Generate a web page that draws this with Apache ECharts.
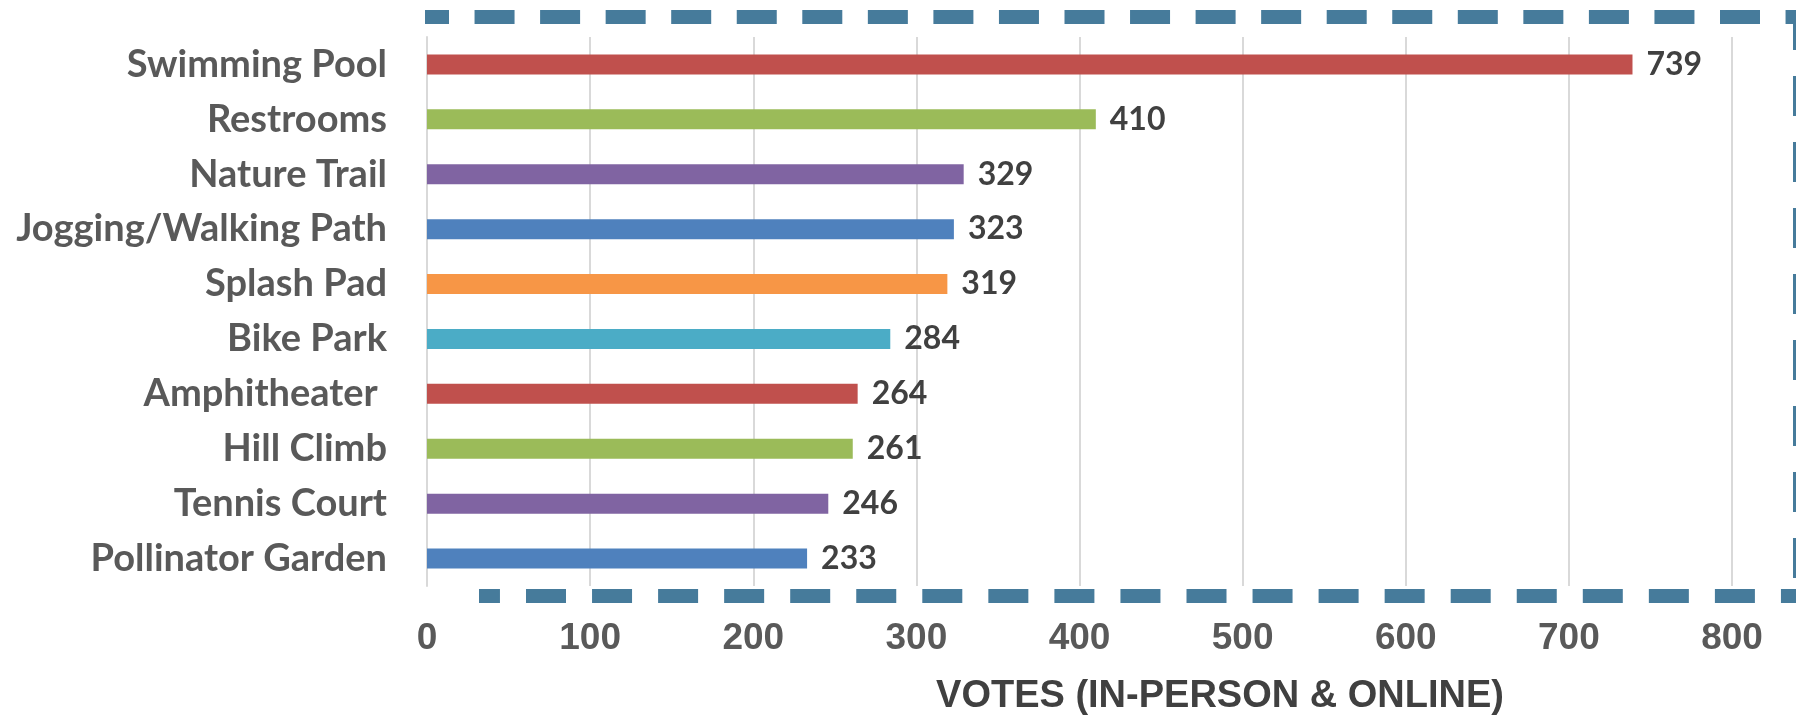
<!DOCTYPE html>
<html>
<head>
<meta charset="utf-8">
<script src="https://cdn.jsdelivr.net/npm/echarts@6/dist/echarts.min.js"></script>
<style>
  html, body { margin: 0; padding: 0; background: #ffffff; }
  #chart { width: 1796px; height: 719px; }
</style>
</head>
<body>
<div id="chart"></div>
<script>
const categories = ['Swimming Pool', 'Restrooms', 'Nature Trail', 'Jogging/Walking Path', 'Splash Pad', 'Bike Park', 'Amphitheater ', 'Hill Climb', 'Tennis Court', 'Pollinator Garden'];
const votes = [739, 410, 329, 323, 319, 284, 264, 261, 246, 233];
const barColors = ['#C0504D', '#9BBB59', '#8064A2', '#4F81BD', '#F79646', '#4BACC6', '#C0504D', '#9BBB59', '#8064A2', '#4F81BD'];
const xMin = 0, xMax = 800, xStep = 100;
const axisTitle = 'VOTES (IN-PERSON & ONLINE)';

const chart = echarts.init(document.getElementById('chart'), null, { renderer: 'canvas' });
const dashColor = '#467B9B';
chart.setOption({
  animation: false,
  backgroundColor: '#ffffff',
  grid: { left: 427, right: 64, top: 37, bottom: 133, containLabel: false },
  xAxis: {
    type: 'value', min: xMin, max: xMax, interval: xStep,
    axisLine: { show: false }, axisTick: { show: false },
    splitLine: { show: true, lineStyle: { color: '#D9D9D9', width: 2 } },
    axisLabel: { margin: 34, color: '#595959', fontFamily: 'Liberation Sans, Arial, sans-serif', fontWeight: 'bold', fontSize: 37 }
  },
  yAxis: {
    type: 'category', data: categories, inverse: true,
    axisLine: { show: true, lineStyle: { color: '#D9D9D9', width: 2 } },
    axisTick: { show: false },
    axisLabel: { margin: 40, color: '#595959', fontFamily: 'Lato, sans-serif', fontWeight: 'bold', fontSize: 38 }
  },
  series: [{
    type: 'bar',
    data: votes.map((v, i) => ({ value: v, itemStyle: { color: barColors[i] } })),
    barWidth: 20,
    label: { show: true, position: 'right', distance: 14, color: '#404040', fontFamily: 'Lato, sans-serif', fontWeight: 'bold', fontSize: 32 }
  }],
  graphic: [
    { type: 'line', silent: true, shape: { x1: 425, y1: 17, x2: 1800, y2: 17 },
      style: { stroke: dashColor, lineWidth: 14, lineDash: [40, 25.55], lineDashOffset: 16 } },
    { type: 'line', silent: true, shape: { x1: 479, y1: 596, x2: 1800, y2: 596 },
      style: { stroke: dashColor, lineWidth: 14, lineDash: [40, 26.05], lineDashOffset: 19.05 } },
    { type: 'line', silent: true, shape: { x1: 1800, y1: 10, x2: 1800, y2: 603 },
      style: { stroke: dashColor, lineWidth: 14, lineDash: [40, 26], lineDashOffset: 0 } },
    { type: 'text', silent: true, x: 1220, y: 697,
      style: { text: axisTitle, fill: '#404040', fontFamily: 'Liberation Sans, Arial, sans-serif', fontWeight: 'bold', fontSize: 38, align: 'center', verticalAlign: 'middle' } }
  ]
});
</script>
</body>
</html>
